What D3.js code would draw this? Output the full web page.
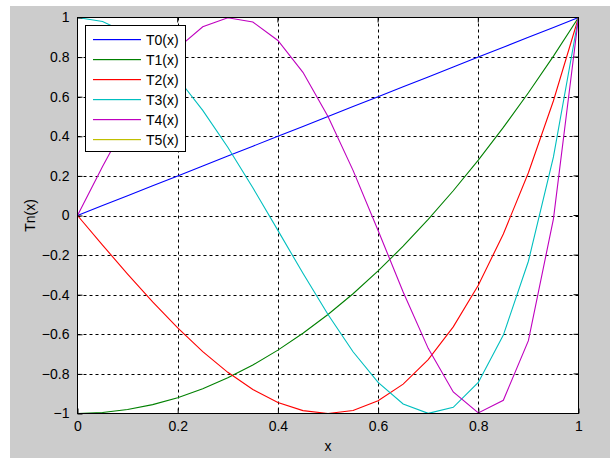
<!DOCTYPE html>
<html><head><meta charset="utf-8">
<script src="https://cdn.jsdelivr.net/npm/d3@7"></script>
<style>body{margin:0;background:#fff}svg{display:block}</style>
</head><body>
<script>
const xs = [0,0.05,0.1,0.15,0.2,0.25,0.3,0.35,0.4,0.45,0.5,0.55,0.6,0.65,0.7,0.75,0.8,0.85,0.9,0.95,1];
const T0 = [0,0.05,0.1,0.15,0.2,0.25,0.3,0.35,0.4,0.45,0.5,0.55,0.6,0.65,0.7,0.75,0.8,0.85,0.9,0.95,1];
const T1 = [-1,-0.995,-0.98,-0.955,-0.92,-0.875,-0.82,-0.755,-0.68,-0.595,-0.5,-0.395,-0.28,-0.155,-0.02,0.125,0.28,0.445,0.62,0.805,1];
const T2 = [0,-0.1495,-0.296,-0.4365,-0.568,-0.6875,-0.792,-0.8785,-0.944,-0.9855,-1,-0.9845,-0.936,-0.8515,-0.728,-0.5625,-0.352,-0.0935,0.216,0.5795,1];
const T3 = [1,0.98,0.921,0.824,0.693,0.531,0.345,0.14,-0.075,-0.292,-0.5,-0.688,-0.843,-0.952,-0.999,-0.969,-0.843,-0.604,-0.231,0.296,1];
const T4 = [0,0.2475,0.480,0.684,0.845,0.953,0.999,0.977,0.884,0.723,0.5,0.228,-0.076,-0.386,-0.671,-0.891,-0.997,-0.933,-0.632,-0.017,1];
const T5 = [];
const seriesNames = ["T0(x)","T1(x)","T2(x)","T3(x)","T4(x)","T5(x)"];
const seriesData = [T0,T1,T2,T3,T4,T5];
const colors = ["#0000ff","#008000","#ff0000","#00bfbf","#bf00bf","#bfbf00"];
const xTicks = [0,0.2,0.4,0.6,0.8,1];
const yTicks = [-1,-0.8,-0.6,-0.4,-0.2,0,0.2,0.4,0.6,0.8,1];

const W=610,H=458;
const svg=d3.select("body").append("svg").attr("width",W).attr("height",H);
svg.append("rect").attr("x",10).attr("y",6).attr("width",W-10).attr("height",H-6).attr("fill","#cccccc");
const L=77.5,R=578.5,T=17.5,B=413.5;
const x=d3.scaleLinear().domain([0,1]).range([L,R]);
const y=d3.scaleLinear().domain([-1,1]).range([B,T]);
svg.append("rect").attr("x",L).attr("y",T).attr("width",R-L).attr("height",B-T).attr("fill","#fff");
const font="Arial, 'Liberation Sans', sans-serif";
// grid
const g=svg.append("g");
g.selectAll(".gx").data(xTicks.slice(1,-1)).enter().append("line")
 .attr("x1",d=>Math.round(x(d))+0.5).attr("x2",d=>Math.round(x(d))+0.5).attr("y1",T).attr("y2",B)
 .attr("stroke","#000").attr("stroke-dasharray","3,3").attr("stroke-width",1);
g.selectAll(".gy").data(yTicks.slice(1,-1)).enter().append("line")
 .attr("y1",d=>Math.round(y(d))+0.5).attr("y2",d=>Math.round(y(d))+0.5).attr("x1",L).attr("x2",R)
 .attr("stroke","#000").attr("stroke-dasharray","3,3").attr("stroke-width",1);
// lines
const line=d3.line().x((d,i)=>x(xs[i])).y(d=>y(d));
seriesData.forEach((s,k)=>{ if(s.length) svg.append("path").attr("d",line(s)).attr("fill","none").attr("stroke",colors[k]).attr("stroke-width",1.1);});
// axes box
svg.append("rect").attr("x",L).attr("y",T).attr("width",R-L).attr("height",B-T).attr("fill","none").attr("stroke","#000");
// ticks
const xa=d3.axisBottom(x).tickValues(xTicks).tickFormat(d=>d3.format("")(d)).tickSizeInner(-5).tickSizeOuter(0).tickPadding(8);
const xg=svg.append("g").attr("transform",`translate(0,${B})`).call(xa);
const ya=d3.axisLeft(y).tickValues(yTicks).tickFormat(d=>d3.format("")(+d.toFixed(1))).tickSizeInner(-5).tickSizeOuter(0).tickPadding(8);
const yg=svg.append("g").attr("transform",`translate(${L},0)`).call(ya);
[xg,yg].forEach(a=>{a.select(".domain").remove();a.selectAll("text").attr("font-family",font).attr("font-size",14).attr("fill","#000");a.selectAll("line").attr("stroke","#000");});
// top & right ticks
svg.append("g").selectAll("line").data(xTicks).enter().append("line").attr("x1",d=>x(d)).attr("x2",d=>x(d)).attr("y1",T).attr("y2",T+5).attr("stroke","#000");
svg.append("g").selectAll("line").data(yTicks).enter().append("line").attr("y1",d=>y(d)).attr("y2",d=>y(d)).attr("x1",R).attr("x2",R-5).attr("stroke","#000");
// labels
svg.append("text").attr("x",(L+R)/2).attr("y",451).attr("text-anchor","middle").attr("font-family",font).attr("font-size",14).text("x");
svg.append("text").attr("transform",`translate(35,${(T+B)/2}) rotate(-90)`).attr("text-anchor","middle").attr("font-family",font).attr("font-size",14).text("Tn(x)");
// legend
const lg=svg.append("g");
lg.append("rect").attr("x",85.5).attr("y",25.5).attr("width",100).attr("height",126).attr("fill","#fff").attr("stroke","#000");
seriesNames.forEach((n,k)=>{
 const yy=39+k*20;
 lg.append("rect").attr("x",93).attr("y",yy).attr("width",48).attr("height",1.2).attr("fill",colors[k]);
 lg.append("text").attr("x",146).attr("y",yy+5.5).attr("font-family",font).attr("font-size",14).attr("fill","#000").text(n);
});
</script>
</body></html>
